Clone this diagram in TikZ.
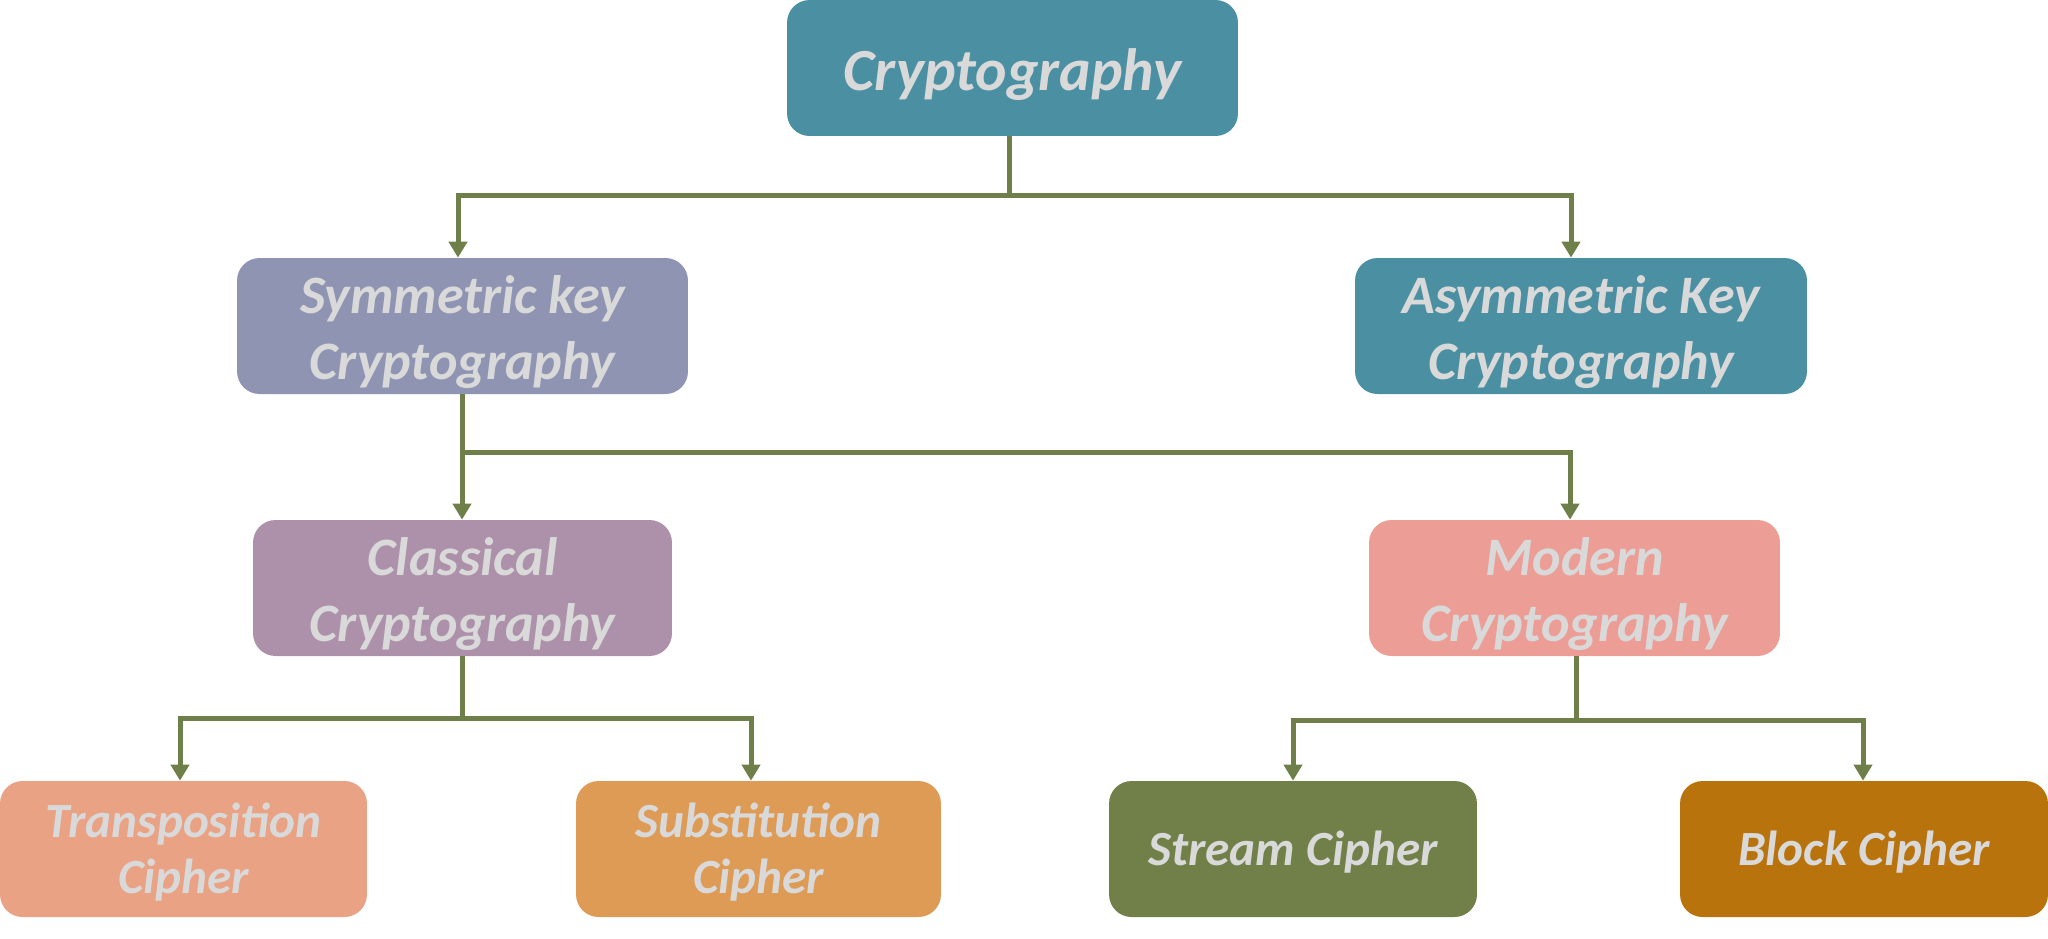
\documentclass[tikz,border=0pt]{standalone}
\usepackage{fontspec}
\setmainfont{Carlito}
\usetikzlibrary{arrows.meta}
\definecolor{cteal}{HTML}{4A8FA2}
\definecolor{csym}{HTML}{8F94B3}
\definecolor{cclass}{HTML}{AD90A9}
\definecolor{cmod}{HTML}{EC9E96}
\definecolor{ctrans}{HTML}{E9A283}
\definecolor{csubst}{HTML}{DD9B55}
\definecolor{cstream}{HTML}{718048}
\definecolor{cblock}{HTML}{B9730D}
\definecolor{cline}{HTML}{6F7F4A}
\definecolor{ctext}{HTML}{D9D9D9}
\tikzset{
  box/.style={rectangle, rounded corners=0.45cm, draw=none,
    inner sep=0pt, minimum height=2.72cm},
  txt/.style={text=ctext, align=center, inner sep=0pt},
  txtA/.style={txt, yshift=-0.13cm, font=\fontsize{34}{41}\selectfont\bfseries\itshape},
  txtB/.style={txt, yshift=-0.12cm, font=\fontsize{30.8}{38}\selectfont\bfseries\itshape},
  txtC/.style={txt, yshift=-0.06cm, font=\fontsize{28}{32.3}\selectfont\bfseries\itshape},
  conn/.style={draw=cline, line width=0.1cm},
  arr/.style={conn, -{Triangle[width=0.36cm,length=0.32cm]}},
}
\begin{document}
\begin{tikzpicture}[x=0.02cm, y=-0.02cm]
\useasboundingbox (0,0) rectangle (2048,938);
\node[box, fill=cteal, minimum width=9.02cm,
  label={[txtA]center:Cryptography}] (crypt) at (1012.5,68) {};
\node[box, fill=csym, minimum width=9.02cm,
  label={[txtB]center:Symmetric key\\Cryptography}] (sym) at (462.5,326) {};
\node[box, fill=cteal, minimum width=9.04cm,
  label={[txtB]center:Asymmetric Key\\Cryptography}] (asym) at (1581,326) {};
\node[box, fill=cclass, minimum width=8.38cm,
  label={[txtB]center:Classical\\Cryptography}] (class) at (462.5,588) {};
\node[box, fill=cmod, minimum width=8.22cm,
  label={[txtB]center:Modern\\Cryptography}] (mod) at (1574.5,588) {};
\node[box, fill=ctrans, minimum width=7.34cm,
  label={[txtC]center:Transposition\\Cipher}] (trans) at (183.5,849) {};
\node[box, fill=csubst, minimum width=7.30cm,
  label={[txtC]center:Substitution\\Cipher}] (subst) at (758.5,849) {};
\node[box, fill=cstream, minimum width=7.36cm,
  label={[txtC]center:Stream Cipher}] (stream) at (1293,849) {};
\node[box, fill=cblock, minimum width=7.36cm,
  label={[txtC]center:Block Cipher}] (block) at (1864,849) {};
% level 1
\coordinate (j1) at (1009,195);
\draw[conn] (crypt.south -| j1) -- (j1);
\draw[arr] (j1) -| (sym.north -| 458,0);
\draw[arr] (j1) -| (asym.north -| 1571,0);
% level 2
\coordinate (j2) at (462,452);
\draw[conn] (sym.south -| j2) -- (j2);
\draw[arr] (j2) -- (class.north -| j2);
\draw[arr] (j2) -| (mod.north -| 1570,0);
% level 3 left
\coordinate (j3) at (462,718);
\draw[conn] (class.south -| j3) -- (j3);
\draw[arr] (j3) -| (trans.north -| 180,0);
\draw[arr] (j3) -| (subst.north -| 751,0);
% level 3 right
\coordinate (j4) at (1576,720);
\draw[conn] (mod.south -| j4) -- (j4);
\draw[arr] (j4) -| (stream.north -| 1293,0);
\draw[arr] (j4) -| (block.north -| 1863,0);
\end{tikzpicture}
\end{document}
